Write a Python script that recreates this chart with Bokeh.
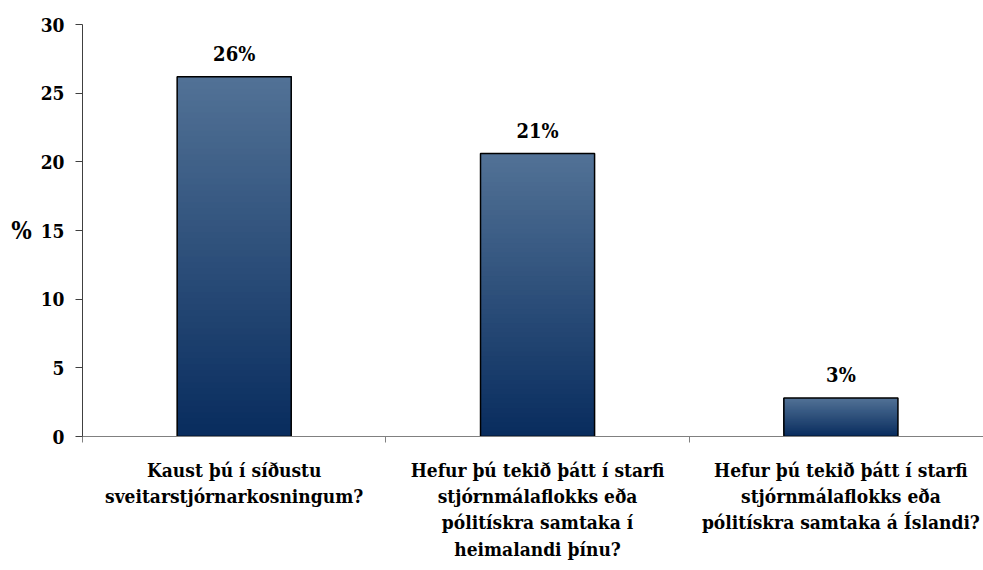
import numpy as np
from bokeh.plotting import figure
from bokeh.models import FixedTicker, Range1d, ColumnDataSource
from bokeh.core.properties import value
from bokeh.embed import file_html
from bokeh.resources import INLINE

categories = [
    "Kaust þú í síðustu\nsveitarstjórnarkosningum?",
    "Hefur þú tekið þátt í starfi\nstjórnmálaflokks eða\npólitískra samtaka í\nheimalandi þínu?",
    "Hefur þú tekið þátt í starfi\nstjórnmálaflokks eða\npólitískra samtaka á Íslandi?",
]
values = [26.2, 20.6, 2.8]
labels = ["26%", "21%", "3%"]
y_ticks = [0, 5, 10, 15, 20, 25, 30]

FONT = "DejaVu Serif Condensed"
xs = [i + 0.5 for i in range(len(values))]

p = figure(width=983, height=570, output_backend="svg", toolbar_location=None,
           x_range=Range1d(0, 2.97), y_range=Range1d(0, 30),
           min_border_left=82, min_border_right=0, min_border_top=24, min_border_bottom=134)
p.outline_line_color = None
p.grid.grid_line_color = None
p.background_fill_color = "white"

N = 60
top_c = np.array([82, 114, 150])
bot_c = np.array([8, 44, 94])
gx, gb, gt, gc = [], [], [], []
for x, v in zip(xs, values):
    for k in range(N):
        f = (k + 0.5) / N
        c = bot_c + (top_c - bot_c) * f
        gx.append(x)
        gb.append(v * k / N)
        gt.append(v)
        gc.append("#%02x%02x%02x" % tuple(int(round(t)) for t in c))
p.vbar(x=gx, bottom=gb, top=gt, width=0.376, fill_color=gc, line_color=None)
p.vbar(x=xs, top=values, width=0.376, fill_color=None, line_color="black", line_width=1.5)

src = ColumnDataSource(dict(x=xs, y=values, t=labels))
p.text(x="x", y="y", text="t", source=src, text_align="center", text_baseline="middle",
       y_offset=-23, text_font=value(FONT), text_font_style="bold", text_font_size="20px",
       text_color="black")

xa = p.xaxis[0]
xa.ticker = FixedTicker(ticks=xs, minor_ticks=[0, 1, 2, 3])
xa.major_label_overrides = {x: c for x, c in zip(xs, categories)}
xa.major_tick_line_color = None
xa.minor_tick_in = 0
xa.minor_tick_out = 6
xa.minor_tick_line_color = "#808080"
xa.axis_line_color = "#808080"
xa.major_label_text_font = FONT
xa.major_label_text_font_style = "bold"
xa.major_label_text_font_size = "19px"
xa.major_label_text_color = "black"
xa.major_label_standoff = 16

ya = p.yaxis[0]
ya.ticker = FixedTicker(ticks=y_ticks)
ya.minor_tick_line_color = None
ya.major_tick_in = 0
ya.major_tick_out = 7
ya.major_tick_line_color = "#404040"
ya.axis_line_color = "#404040"
ya.major_label_text_font = FONT
ya.major_label_text_font_style = "bold"
ya.major_label_text_font_size = "19px"
ya.major_label_text_color = "black"
ya.major_label_standoff = 11
ya.axis_label = "%"
ya.axis_label_orientation = "horizontal"
ya.axis_label_text_font = FONT
ya.axis_label_text_font_style = "bold"
ya.axis_label_text_font_size = "24px"
ya.axis_label_text_color = "black"
ya.axis_label_standoff = 6

open("out.html", "w").write(file_html(p, INLINE))
